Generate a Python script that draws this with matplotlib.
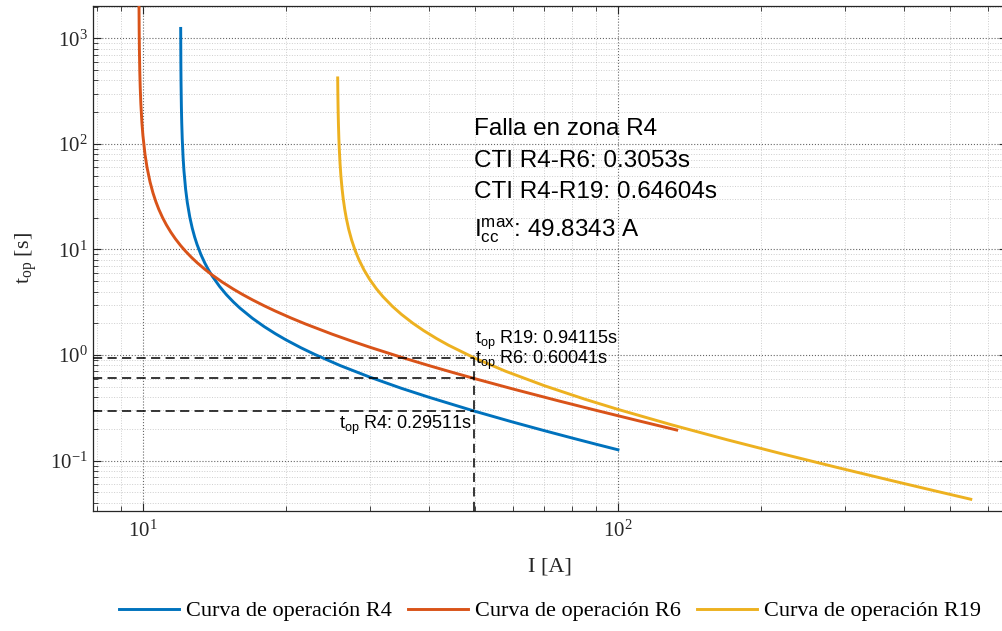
import matplotlib
matplotlib.use("Agg")
import matplotlib.pyplot as plt
from matplotlib.ticker import LogLocator, NullFormatter, LogFormatterMathtext

plt.rcParams['font.family'] = ['Liberation Serif', 'DejaVu Serif']

# ---- data ----
I_R4 = [12.009, 12.02, 12.03, 12.05, 12.07, 12.1, 12.15, 12.2, 12.3, 12.4, 12.55, 12.7,
        12.85, 13.0, 13.25, 13.5, 13.75, 14.0, 14.5, 15.0, 15.5, 16.0, 17.0, 18.0, 19.0,
        20.0, 21.5, 23.0, 26.0, 30.0, 35.0, 40.0, 49.83, 60.0, 70.0, 80.0, 90.0, 100.0]
t_R4 = [1240, 558, 372.1, 223.3, 159.5, 111.6, 74.43, 55.8, 37.21, 27.9, 20.3, 15.95,
        13.13, 11.16, 8.93, 7.44, 6.379, 5.58, 4.47, 3.72, 3.190, 2.79, 2.233, 1.861, 1.595,
        1.395, 1.175, 1.015, 0.797, 0.620, 0.485, 0.399, 0.2951, 0.2326, 0.1925, 0.1642,
        0.1431, 0.1269]

I_R6 = [9.81, 9.82, 9.83, 9.85, 9.87, 9.9, 9.95, 10.0, 10.1, 10.2, 10.35, 10.5, 10.65,
        10.8, 11.0, 11.2, 11.45, 11.7, 12.0, 12.3, 12.65, 13.0, 13.5, 14.0, 14.7, 15.5,
        16.2, 17.0, 18.0, 19.0, 20.5, 22.0, 25.0, 27.5, 30.0, 35.0, 40.0, 45.0, 49.83,
        60.0, 75.0, 90.0, 110.0, 132.9]
t_R6 = [2403, 1202, 801.2, 480.7, 343.4, 240.3, 160.2, 120.2, 80.1, 60.09, 43.70, 34.33,
        28.28, 24.03, 20.03, 17.17, 14.57, 12.65, 10.92, 9.614, 8.433, 7.511, 6.496, 5.723,
        4.905, 4.217, 3.755, 3.338, 2.931, 2.612, 2.246, 1.970, 1.581, 1.358, 1.190, 0.9537,
        0.7958, 0.6828, 0.6004, 0.4788, 0.3686, 0.2997, 0.2399, 0.1952]

I_R19 = [25.704, 25.72, 25.73, 25.75, 25.77, 25.8, 25.85, 25.9, 26.0, 26.1, 26.25, 26.4,
         26.6, 26.8, 27.1, 27.5, 28.0, 28.5, 29.2, 30.0, 31.0, 32.0, 33.5, 35.0, 37.0,
         39.0, 41.5, 44.0, 49.83, 58.0, 70.0, 85.0, 100.0, 130.0, 170.0, 220.0, 290.0,
         380.0, 470.0, 553.0]
t_R19 = [421.4, 325.1, 284.5, 227.6, 189.6, 151.7, 113.8, 91.02, 65.02, 50.57, 37.93,
         30.34, 23.95, 19.79, 15.69, 12.30, 9.684, 7.985, 6.410, 5.231, 4.254, 3.584, 2.899,
         2.434, 2.005, 1.705, 1.436, 1.240, 0.9411, 0.7035, 0.5131, 0.3834, 0.3061, 0.2181,
         0.1576, 0.1171, 0.08609, 0.06422, 0.05121, 0.04315]

I_fault = 49.8343
t_marks = [0.94115, 0.60041, 0.29511]
labels = ['Curva de operación R4', 'Curva de operación R6', 'Curva de operación R19']
colors = ['#0072BD', '#D95319', '#EDB120']

info_lines = ['Falla en zona R4', 'CTI R4-R6: 0.3053s', 'CTI R4-R19: 0.64604s',
              r'$\mathregular{I_{cc}^{max}}$: 49.8343 A']

# ---- figure ----
fig = plt.figure(figsize=(10.02, 6.31), dpi=100)
ax = fig.add_axes([93/1002, 1-511/631, (1007-93)/1002, 505/631])
ax.set_xscale('log')
ax.set_yscale('log')
xlo, xhi = 7.851, 659.1
ylo, yhi = 0.0334, 2022
ax.set_xlim(xlo, xhi)
ax.set_ylim(ylo, yhi)

h1, = ax.plot(I_R4, t_R4, color=colors[0], lw=2.1, label=labels[0], zorder=3)
h2, = ax.plot(I_R6, t_R6, color=colors[1], lw=2.1, label=labels[1], zorder=3)
h3, = ax.plot(I_R19, t_R19, color=colors[2], lw=2.1, label=labels[2], zorder=3)

dash = (0, (6, 3.5))
for tm in t_marks:
    ax.plot([xlo, I_fault], [tm, tm], color='k', lw=1.1, ls=dash, zorder=4)
ax.plot([I_fault, I_fault], [ylo, t_marks[0]], color='k', lw=1.1, ls=dash, zorder=4)

sans = ['Liberation Sans', 'DejaVu Sans']
ax.annotate(r'$\mathregular{t_{op}}$ R19: 0.94115s', (I_fault, t_marks[0]),
            xytext=(0.5, 10), textcoords='offset points', ha='left', va='baseline',
            fontsize=13, family=sans, zorder=5)
ax.annotate(r'$\mathregular{t_{op}}$ R6: 0.60041s', (I_fault, t_marks[1]),
            xytext=(0.5, 10.3), textcoords='offset points', ha='left', va='baseline',
            fontsize=13, family=sans, zorder=5)
ax.annotate(r'$\mathregular{t_{op}}$ R4: 0.29511s', (I_fault, t_marks[2]),
            xytext=(-1.5, -13), textcoords='offset points', ha='right', va='baseline',
            fontsize=13, family=sans, zorder=5)

info_y = [121.4, 60.8, 30.5, 13.2]
for txt, yy in zip(info_lines, info_y):
    ax.text(I_fault, yy, txt, fontsize=17.5, family=sans, ha='left', va='baseline', zorder=5)

# ---- axes styling ----
ax.xaxis.set_major_locator(LogLocator(base=10, numticks=10))
ax.yaxis.set_major_locator(LogLocator(base=10, numticks=10))
ax.xaxis.set_minor_locator(LogLocator(base=10, subs=range(2, 10), numticks=20))
ax.yaxis.set_minor_locator(LogLocator(base=10, subs=range(2, 10), numticks=20))
ax.xaxis.set_major_formatter(LogFormatterMathtext())
ax.yaxis.set_major_formatter(LogFormatterMathtext())
ax.xaxis.set_minor_formatter(NullFormatter())
ax.yaxis.set_minor_formatter(NullFormatter())

ax.tick_params(which='both', direction='in', top=True, right=True, colors='0.15',
               labelcolor='0.15', labelsize=15)
ax.tick_params(which='major', length=6, width=0.8)
ax.tick_params(which='minor', length=3.5, width=0.6)
ax.tick_params(axis='x', which='major', pad=7)
ax.tick_params(axis='y', which='major', pad=4)
for sp in ax.spines.values():
    sp.set_color('0.15')
    sp.set_linewidth(0.9)

ax.grid(True, which='major', color='0.25', ls=':', lw=0.8, alpha=0.8)
ax.grid(True, which='minor', color='0.65', ls=':', lw=0.7, alpha=0.55)
ax.set_axisbelow(True)

ax.set_xlabel('I [A]', fontsize=16, color='0.15', labelpad=11)
ax.set_ylabel(r'$\mathregular{t_{op}}$ [s]', fontsize=16, color='0.15', labelpad=8)

fig.legend(handles=[h1, h2, h3], loc='center', bbox_to_anchor=(550/1002, 1-611/631),
           ncol=3, frameon=False, fontsize=16, handlelength=2.7, handletextpad=0.3,
           columnspacing=0.75, borderaxespad=0)

fig.savefig('out.png', dpi=100)
